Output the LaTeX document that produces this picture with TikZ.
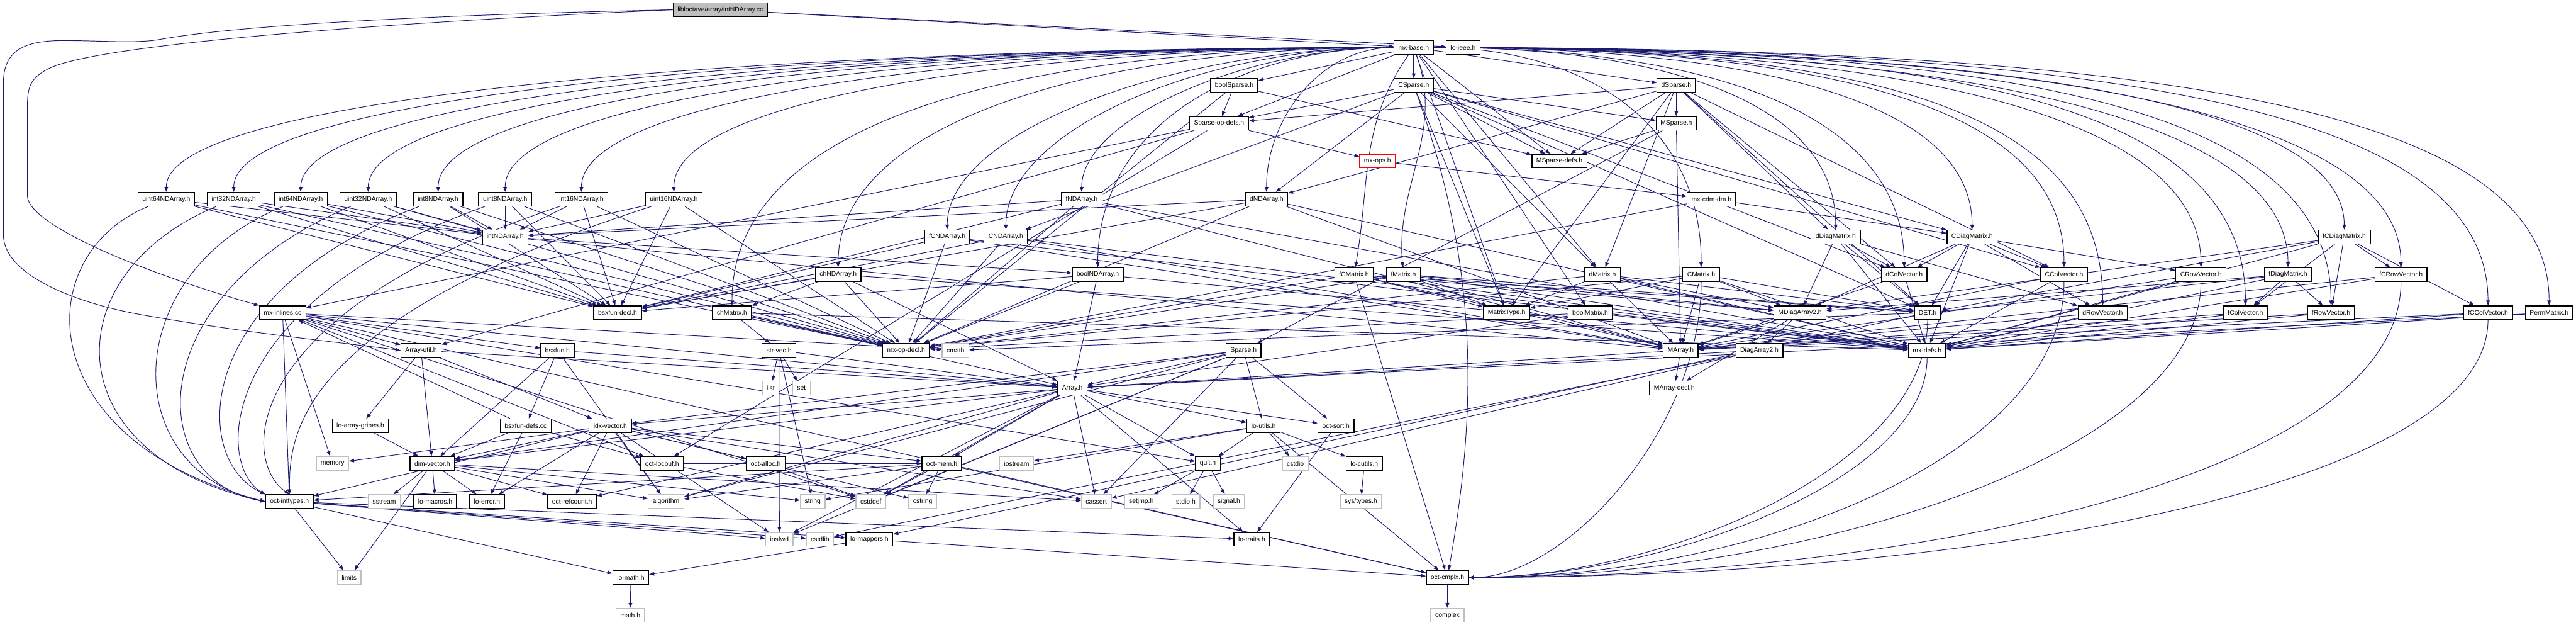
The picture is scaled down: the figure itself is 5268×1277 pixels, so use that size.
\documentclass[tikz,border=0pt]{standalone}
\usepackage{fontspec}
\setmainfont{Liberation Sans}
\usetikzlibrary{arrows.meta}
\newcommand{\gfs}{\fontsize{3.8pt}{4.5pt}\selectfont}
\definecolor{edgec}{RGB}{25,25,112}
\definecolor{sysc}{RGB}{191,191,191}
\pgfdeclarelayer{bg}
\pgfsetlayers{bg,main}
\tikzset{
  box/.style={draw=black, fill=white, line width=0.5pt, minimum height=0.28cm, inner xsep=0.09cm, inner ysep=0pt, font=\gfs, text=black},
  sys/.style={box, draw=sysc},
  rootbox/.style={box, fill=sysc},
  redbox/.style={box, draw=red},
  edg/.style={draw=edgec, line width=0.35pt, -{Triangle[length=0.1cm,width=0.075cm]}},
  lf/.style 2 args={out=180,in=90,out distance=#1,in distance=#2},
  rf/.style 2 args={out=0,in=90,out distance=#1,in distance=#2},
  tc/.style 2 args={out=-90,in=0,out distance=#1,in distance=#2},
}
\begin{document}
\begin{tikzpicture}[x=0.01cm,y=0.01cm]
\useasboundingbox (0,0) rectangle (5268,-1277);
% ---------- nodes ----------
\node[rootbox] (root) at (1473,-20) {libloctave/array/intNDArray.cc};
\node[box] (mxbase) at (2891,-97) {mx-base.h};
\node[box] (loieee) at (2992,-97) {lo-ieee.h};
\node[box] (boolSparse) at (2524,-175) {boolSparse.h};
\node[box] (CSparse) at (2891,-175) {CSparse.h};
\node[box] (dSparse) at (3428,-175) {dSparse.h};
\node[box] (SpOpDefs) at (2493,-252) {Sparse-op-defs.h};
\node[box] (MSparse) at (3428,-252) {MSparse.h};
\node[redbox] (mxops) at (2817,-329) {mx-ops.h};
\node[box] (MSpDefs) at (3189,-329) {MSparse-defs.h};
\node[box] (u64) at (340,-407) {uint64NDArray.h};
\node[box] (i32) at (478,-407) {int32NDArray.h};
\node[box] (i64) at (615,-407) {int64NDArray.h};
\node[box] (u32) at (753,-407) {uint32NDArray.h};
\node[box] (i8) at (896,-407) {int8NDArray.h};
\node[box] (u8) at (1033,-407) {uint8NDArray.h};
\node[box] (i16) at (1189,-407) {int16NDArray.h};
\node[box] (u16) at (1378,-407) {uint16NDArray.h};
\node[box] (fND) at (2212,-407) {fNDArray.h};
\node[box] (dND) at (2590,-407) {dNDArray.h};
\node[box] (cdmdm) at (3500,-407) {mx-cdm-dm.h};
\node[box] (intND) at (1033,-484) {intNDArray.h};
\node[box] (fCND) at (1937,-484) {fCNDArray.h};
\node[box] (CND) at (2057,-484) {CNDArray.h};
\node[box] (dDiag) at (3754,-484) {dDiagMatrix.h};
\node[box] (CDiag) at (4033,-484) {CDiagMatrix.h};
\node[box] (fCDiag) at (4794,-484) {fCDiagMatrix.h};
\node[box] (chND) at (1714,-561) {chNDArray.h};
\node[box] (boolND) at (2245,-561) {boolNDArray.h};
\node[box] (fCMat) at (2769,-561) {fCMatrix.h};
\node[box] (fMat) at (2870,-561) {fMatrix.h};
\node[box] (dMat) at (3277,-561) {dMatrix.h};
\node[box] (CMat) at (3479,-561) {CMatrix.h};
\node[box] (dColV) at (3894,-561) {dColVector.h};
\node[box] (CColV) at (4221,-561) {CColVector.h};
\node[box] (CRowV) at (4501,-561) {CRowVector.h};
\node[box] (fDiag) at (4679,-561) {fDiagMatrix.h};
\node[box] (fCRowV) at (4910,-561) {fCRowVector.h};
\node[box] (mxinl) at (578,-639) {mx-inlines.cc};
\node[box] (bsxdecl) at (1263,-639) {bsxfun-decl.h};
\node[box] (chMat) at (1497,-639) {chMatrix.h};
\node[box] (MatType) at (3081,-639) {MatrixType.h};
\node[box] (boolMat) at (3252,-639) {boolMatrix.h};
\node[box] (MDiag2) at (3681,-639) {MDiagArray2.h};
\node[box] (DET) at (3942,-639) {DET.h};
\node[box] (dRowV) at (4300,-639) {dRowVector.h};
\node[box] (fColV) at (4592,-639) {fColVector.h};
\node[box] (fRowV) at (4767,-639) {fRowVector.h};
\node[box] (fCColV) at (5088,-639) {fCColVector.h};
\node[box] (Perm) at (5213,-639) {PermMatrix.h};
\node[box] (Autil) at (861,-716) {Array-util.h};
\node[box] (bsxfun) at (1140,-716) {bsxfun.h};
\node[box] (strvec) at (1593,-716) {str-vec.h};
\node[box] (mxopdecl) at (1853,-716) {mx-op-decl.h};
\node[sys] (cmath) at (1954,-716) {cmath};
\node[box] (Sparse) at (2543,-716) {Sparse.h};
\node[box] (MArray) at (3437,-716) {MArray.h};
\node[box] (Diag2) at (3598,-716) {DiagArray2.h};
\node[box] (mxdefs) at (3941,-716) {mx-defs.h};
\node[sys] (list) at (1576,-793) {list};
\node[sys] (set) at (1639,-793) {set};
\node[box] (Array) at (2193,-793) {Array.h};
\node[box] (MArrdecl) at (3424,-793) {MArray-decl.h};
\node[box] (gripes) at (737,-870) {lo-array-gripes.h};
\node[box] (bsxdefs) at (1075,-870) {bsxfun-defs.cc};
\node[box] (idx) at (1248,-870) {idx-vector.h};
\node[box] (loutils) at (2584,-870) {lo-utils.h};
\node[box] (octsort) at (2732,-870) {oct-sort.h};
\node[sys] (memory) at (680,-947) {memory};
\node[box] (dimv) at (884,-947) {dim-vector.h};
\node[box] (locbuf) at (1354,-947) {oct-locbuf.h};
\node[box] (alloc) at (1566,-947) {oct-alloc.h};
\node[box] (octmem) at (1926,-947) {oct-mem.h};
\node[sys] (iostream) at (2079,-947) {iostream};
\node[box] (quit) at (2470,-947) {quit.h};
\node[sys] (cstdio) at (2649,-947) {cstdio};
\node[box] (cutils) at (2790,-947) {lo-cutils.h};
\node[box] (inttypes) at (592,-1025) {oct-inttypes.h};
\node[sys] (sstream) at (786,-1025) {sstream};
\node[box] (macros) at (890,-1025) {lo-macros.h};
\node[box] (loerror) at (996,-1025) {lo-error.h};
\node[box] (refcount) at (1170,-1025) {oct-refcount.h};
\node[sys] (algorithm) at (1362,-1025) {algorithm};
\node[sys] (string) at (1662,-1025) {string};
\node[sys] (cstddef) at (1781,-1025) {cstddef};
\node[sys] (cstring) at (1887,-1025) {cstring};
\node[sys] (cassert) at (2242,-1025) {cassert};
\node[sys] (setjmp) at (2334,-1025) {setjmp.h};
\node[sys] (stdio) at (2425,-1025) {stdio.h};
\node[sys] (signal) at (2513,-1025) {signal.h};
\node[sys] (systypes) at (2783,-1025) {sys/types.h};
\node[sys] (iosfwd) at (1594,-1102) {iosfwd};
\node[sys] (cstdlib) at (1677,-1102) {cstdlib};
\node[box] (mappers) at (1778,-1102) {lo-mappers.h};
\node[box] (traits) at (2560,-1102) {lo-traits.h};
\node[sys] (limits) at (714,-1180) {limits};
\node[box] (lomath) at (1290,-1180) {lo-math.h};
\node[box] (cmplx) at (2960,-1180) {oct-cmplx.h};
\node[sys] (mathh) at (1289,-1257) {math.h};
\node[sys] (complex) at (2960,-1257) {complex};
% ---------- edges ----------
\begin{pgfonlayer}{bg}
% root
\draw[edg] (root) -- (mxbase);
\draw[edg] (root) -- (loieee);
\draw[edg] (root.west) .. controls (800,-45) and (200,-90) .. (100,-140) .. controls (60,-160) and (56,-180) .. (56,-220) -- (56,-400) .. controls (56,-460) and (300,-560) .. (mxinl.north west);
\draw[edg] (root.west) .. controls (900,-30) and (500,-50) .. (330,-80) .. controls (280,-90) and (200,-82) .. (118,-83) .. controls (40,-85) and (7,-110) .. (7,-170) -- (7,-480) .. controls (7,-560) and (150,-620) .. (300,-645) .. controls (500,-680) and (700,-700) .. (Autil.west);
% mx-base left fan
\draw[edg] (mxbase) to[lf={12.5cm}{2cm}] (u64);
\draw[edg] (mxbase) to[lf={12cm}{2cm}] (i32);
\draw[edg] (mxbase) to[lf={11cm}{2cm}] (i64);
\draw[edg] (mxbase) to[lf={10.5cm}{2cm}] (u32);
\draw[edg] (mxbase) to[lf={10cm}{2cm}] (i8);
\draw[edg] (mxbase) to[lf={9cm}{2cm}] (u8);
\draw[edg] (mxbase) to[lf={8cm}{2cm}] (i16);
\draw[edg] (mxbase) to[lf={7cm}{2cm}] (u16);
\draw[edg] (mxbase) to[lf={7cm}{4cm}] (chMat);
\draw[edg] (mxbase) to[lf={6cm}{3cm}] (chND);
\draw[edg] (mxbase) to[lf={4.5cm}{2cm}] (fCND);
\draw[edg] (mxbase) to[lf={4cm}{2cm}] (CND);
\draw[edg] (mxbase) to[lf={3cm}{1.5cm}] (fND);
\draw[edg] (mxbase) to[lf={3cm}{3cm}] (boolND);
\draw[edg] (mxbase) to[lf={1.5cm}{1.5cm}] (dND);
% mx-base straight
\draw[edg] (mxbase) -- (boolSparse);
\draw[edg] (mxbase) -- (SpOpDefs);
\draw[edg] (mxbase) -- (CSparse);
\draw[edg] (mxbase) to[out=-125,in=80] (fCMat);
\draw[edg] (mxbase) to[out=-70,in=95] (fMat);
\draw[edg] (mxbase) -- (MatType);
\draw[edg] (mxbase) -- (boolMat);
\draw[edg] (mxbase) -- (MSpDefs);
\draw[edg] (mxbase) -- (dSparse);
\draw[edg] (mxbase) -- (dMat);
% mx-base right fan
\draw[edg] (mxbase) to[rf={3cm}{3cm}] (CMat);
\draw[edg] (mxbase) to[rf={5cm}{2.5cm}] (dDiag);
\draw[edg] (mxbase) to[rf={6cm}{3cm}] (dColV);
\draw[edg] (mxbase) to[rf={7cm}{2.5cm}] (CDiag);
\draw[edg] (mxbase) to[rf={9cm}{3cm}] (CColV);
\draw[edg] (mxbase) to[rf={9cm}{4cm}] (dRowV);
\draw[edg] (mxbase) to[rf={10cm}{3cm}] (CRowV);
\draw[edg] (mxbase) to[rf={11cm}{4cm}] (fColV);
\draw[edg] (mxbase) to[rf={11cm}{3cm}] (fDiag);
\draw[edg] (mxbase) to[rf={12cm}{2.5cm}] (fCDiag);
\draw[edg] (mxbase) to[rf={12cm}{4cm}] (fRowV);
\draw[edg] (mxbase) to[rf={13cm}{3cm}] (fCRowV);
\draw[edg] (mxbase) to[rf={14cm}{4cm}] (fCColV);
\draw[edg] (mxbase) to[rf={15cm}{4cm}] (Perm);
% sparse family
\draw[edg] (boolSparse) -- (SpOpDefs);
\draw[edg] (boolSparse) -- (MSpDefs);
\draw[edg] (boolSparse) -- (mxopdecl);
\foreach \t in {SpOpDefs,MSparse,MSpDefs,dND,CND,dMat,dColV,CColV,DET,MatType,CDiag} {\draw[edg] (CSparse) -- (\t);}
\draw[edg] (CSparse) to[out=-70,in=80,out distance=4cm,in distance=3cm] (cmplx);
\foreach \t in {SpOpDefs,MSparse,MSpDefs,dND,dMat,dColV,dDiag,DET,MatType,CColV} {\draw[edg] (dSparse) -- (\t);}
\draw[edg] (MSparse) -- (MArray);
\draw[edg] (MSparse) -- (Sparse);
\draw[edg] (MSparse) -- (MSpDefs);
\foreach \t in {mxops,Autil,locbuf,mxinl} {\draw[edg] (SpOpDefs) -- (\t);}
\draw[edg] (mxops) -- (cdmdm);
\draw[edg] (cdmdm) -- (mxopdecl);
\draw[edg] (cdmdm) -- (CDiag);
% integer arrays
\foreach \s in {u64,i32,i64,u32,i8,u8,i16,u16} {
  \draw[edg] (\s) -- (intND);
  \draw[edg] (\s) -- (bsxdecl);
  \draw[edg] (\s) -- (mxopdecl);
}
\draw[edg] (u64) .. controls (60,-520) and (60,-900) .. (inttypes.west);
\draw[edg] (i32) .. controls (110,-560) and (110,-930) .. (inttypes.west);
\draw[edg] (i64) .. controls (240,-560) and (240,-960) .. (inttypes.west);
\draw[edg] (u32) .. controls (290,-600) and (290,-980) .. (inttypes.west);
\draw[edg] (i8) .. controls (390,-600) and (390,-940) .. (inttypes.north west);
\draw[edg] (u8) .. controls (440,-620) and (440,-950) .. (inttypes.north west);
\draw[edg] (i16) .. controls (490,-640) and (490,-940) .. (inttypes.north);
\draw[edg] (u16) .. controls (592,-660) and (592,-900) .. (inttypes.north);
\draw[edg] (intND) -- (MArray);
\draw[edg] (intND) -- (boolND);
\foreach \s in {fND,dND} {\draw[edg] (\s) -- (intND);}
\foreach \s in {fND,dND,CND,fCND} {
  \draw[edg] (\s) -- (MArray);
  \draw[edg] (\s) -- (mxdefs);
  \draw[edg] (\s) -- (mxopdecl);
  \draw[edg] (\s) -- (bsxdecl);
}
\foreach \t in {Array,chMat,mxdefs,mxopdecl,bsxdecl} {\draw[edg] (chND) -- (\t);}
\foreach \t in {Array,mxdefs,mxopdecl,bsxdecl} {\draw[edg] (boolND) -- (\t);}
\foreach \t in {Array,strvec,mxdefs,mxopdecl} {\draw[edg] (chMat) -- (\t);}
\foreach \t in {iosfwd,list,set,string,Array} {\draw[edg] (strvec) -- (\t);}
\foreach \t in {Array,mxdefs,mxopdecl} {\draw[edg] (boolMat) -- (\t);}
\foreach \s in {dMat,CMat,fMat,fCMat} {
  \draw[edg] (\s) -- (MArray);
  \draw[edg] (\s) -- (MDiag2);
  \draw[edg] (\s) -- (MatType);
  \draw[edg] (\s) -- (mxdefs);
  \draw[edg] (\s) -- (mxopdecl);
  \draw[edg] (\s) -- (DET);
}
\draw[edg] (CMat) to[tc={3cm}{2cm}] (cmplx);
\draw[edg] (fCMat) -- (cmplx);
\foreach \s in {dColV,CColV,dRowV,CRowV,fColV,fCColV,fRowV,fCRowV} {
  \draw[edg] (\s) -- (MArray);
  \draw[edg] (\s) -- (mxdefs);
}
\draw[edg] (CColV) to[tc={3.5cm}{6cm}] (cmplx);
\draw[edg] (CRowV) to[tc={3.5cm}{7cm}] (cmplx);
\draw[edg] (fCColV) to[tc={3.5cm}{10cm}] (cmplx);
\draw[edg] (fCRowV) to[tc={4cm}{9cm}] (cmplx);
\foreach \t in {MDiag2,dRowV,dColV,DET,mxdefs} {\draw[edg] (dDiag) -- (\t);}
\foreach \t in {MDiag2,dRowV,CRowV,dColV,CColV,DET,mxdefs} {\draw[edg] (CDiag) -- (\t);}
\foreach \t in {MDiag2,fRowV,fColV,DET,mxdefs} {\draw[edg] (fDiag) -- (\t);}
\foreach \t in {MDiag2,fRowV,fCRowV,fColV,fCColV,DET,mxdefs} {\draw[edg] (fCDiag) -- (\t);}
\draw[edg] (Perm) -- (Array);
\draw[edg] (Perm) -- (mxdefs);
\foreach \t in {Diag2,MArray,MArrdecl} {\draw[edg] (MDiag2) -- (\t);}
\draw[edg] (MArray) -- (Array);
\draw[edg] (MArray) -- (MArrdecl);
\foreach \t in {Array,cassert,cstdlib} {\draw[edg] (Diag2) -- (\t);}
\draw[edg] (DET) -- (cmath);
\draw[edg] (DET) to[tc={3cm}{4cm}] (cmplx);
\draw[edg] (DET) -- (mappers);
\draw[edg] (mxdefs) to[tc={2.5cm}{4cm}] (cmplx);
% core
\foreach \t in {Array,cassert,cstddef,iosfwd,algorithm,octsort,loutils,idx,dimv} {\draw[edg] (Sparse) -- (\t);}
\foreach \t in {cassert,cstddef,algorithm,iosfwd,dimv,idx,traits,loutils,octsort,quit,octmem,refcount} {\draw[edg] (Array) -- (\t);}
\foreach \t in {cassert,cstring,algorithm,iosfwd,memory,dimv,inttypes,alloc,octmem,refcount,loerror} {\draw[edg] (idx) -- (\t);}
\foreach \t in {cassert,sstream,string,loerror,macros,refcount,limits,algorithm} {\draw[edg] (dimv) -- (\t);}
\foreach \t in {limits,lomath,iosfwd,cstdlib,mappers,traits} {\draw[edg] (inttypes) -- (\t);}
\draw[edg] (lomath) -- (mathh);
\draw[edg] (mappers) -- (cmplx);
\draw[edg] (mappers) -- (lomath);
\draw[edg] (cmplx) -- (complex);
\foreach \t in {cstdio,iostream,string,cutils,cmplx,quit} {\draw[edg] (loutils) -- (\t);}
\draw[edg] (cutils) -- (systypes);
\foreach \t in {setjmp,stdio,signal} {\draw[edg] (quit) -- (\t);}
\draw[edg] (octsort) -- (traits);
\foreach \t in {cstddef,cstring,algorithm,cmplx,inttypes} {\draw[edg] (octmem) -- (\t);}
\draw[edg] (alloc) -- (cstddef);
\draw[edg] (locbuf) -- (cstddef);
\draw[edg] (locbuf) -- (octmem);
\foreach \t in {dimv,locbuf,loerror,mxinl} {\draw[edg] (bsxdefs) -- (\t);}
\draw[edg] (gripes) -- (dimv);
\foreach \t in {bsxdefs,algorithm,Array,dimv} {\draw[edg] (bsxfun) -- (\t);}
\foreach \t in {Array,dimv,idx,gripes} {\draw[edg] (Autil) -- (\t);}
\foreach \t in {cstddef,cmath,quit,cmplx,locbuf,inttypes,Array,Autil,bsxfun,memory} {\draw[edg] (mxinl) -- (\t);}
\end{pgfonlayer}
\end{tikzpicture}
\end{document}
